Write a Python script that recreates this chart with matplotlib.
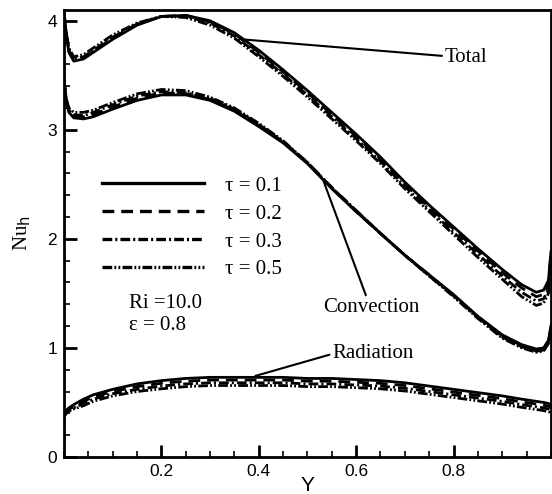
import matplotlib
matplotlib.use("Agg")
import matplotlib.pyplot as plt
from matplotlib.ticker import MultipleLocator, FixedLocator

plt.rcParams['lines.scale_dashes'] = False

Y = [0, 0.005, 0.01, 0.02, 0.04, 0.06, 0.1, 0.15, 0.2, 0.25, 0.3, 0.35, 0.4, 0.45,
     0.5, 0.55, 0.6, 0.65, 0.7, 0.75, 0.8, 0.85, 0.9, 0.94, 0.97, 0.985, 0.995, 1.0]

taus = ["0.1", "0.2", "0.3", "0.5"]

total_01 = [4.07, 3.85, 3.71, 3.63, 3.65, 3.71, 3.83, 3.96, 4.04, 4.05, 4.00, 3.89, 3.73, 3.55,
            3.36, 3.16, 2.96, 2.75, 2.52, 2.31, 2.11, 1.91, 1.72, 1.58, 1.51, 1.53, 1.62, 1.88]
total_02 = [4.07, 3.86, 3.72, 3.64, 3.66, 3.72, 3.84, 3.97, 4.04, 4.05, 3.99, 3.88, 3.71, 3.53,
            3.34, 3.14, 2.94, 2.73, 2.50, 2.29, 2.09, 1.89, 1.69, 1.55, 1.47, 1.49, 1.58, 1.86]
total_03 = [4.07, 3.87, 3.73, 3.65, 3.67, 3.73, 3.85, 3.97, 4.04, 4.04, 3.98, 3.86, 3.69, 3.51,
            3.32, 3.12, 2.92, 2.71, 2.48, 2.27, 2.06, 1.86, 1.66, 1.51, 1.43, 1.45, 1.54, 1.84]
total_05 = [4.07, 3.88, 3.75, 3.67, 3.69, 3.75, 3.87, 3.98, 4.04, 4.03, 3.96, 3.84, 3.67, 3.49,
            3.30, 3.10, 2.90, 2.69, 2.46, 2.25, 2.04, 1.83, 1.63, 1.47, 1.39, 1.41, 1.50, 1.80]

conv_01 = [3.45, 3.25, 3.16, 3.11, 3.10, 3.12, 3.19, 3.27, 3.32, 3.32, 3.27, 3.17, 3.03, 2.88,
           2.69, 2.46, 2.25, 2.05, 1.85, 1.67, 1.49, 1.29, 1.12, 1.03, 0.99, 1.00, 1.07, 1.20]
conv_02 = [3.45, 3.26, 3.17, 3.12, 3.12, 3.14, 3.21, 3.29, 3.34, 3.33, 3.28, 3.18, 3.04, 2.89,
           2.70, 2.47, 2.25, 2.05, 1.85, 1.67, 1.48, 1.28, 1.11, 1.02, 0.98, 0.99, 1.06, 1.19]
conv_03 = [3.45, 3.27, 3.18, 3.14, 3.13, 3.16, 3.23, 3.31, 3.35, 3.34, 3.29, 3.19, 3.05, 2.89,
           2.70, 2.47, 2.26, 2.05, 1.85, 1.66, 1.48, 1.28, 1.10, 1.01, 0.97, 0.98, 1.05, 1.18]
conv_05 = [3.45, 3.28, 3.20, 3.16, 3.16, 3.18, 3.25, 3.33, 3.37, 3.36, 3.30, 3.20, 3.06, 2.90,
           2.70, 2.47, 2.26, 2.05, 1.85, 1.66, 1.47, 1.27, 1.09, 1.00, 0.96, 0.97, 1.04, 1.17]

rad_01 = [0.40, 0.43, 0.45, 0.48, 0.53, 0.57, 0.62, 0.67, 0.70, 0.72, 0.73, 0.73, 0.73, 0.73,
          0.72, 0.72, 0.71, 0.70, 0.68, 0.65, 0.62, 0.59, 0.56, 0.53, 0.51, 0.50, 0.49, 0.48]
rad_02 = [0.39, 0.42, 0.44, 0.46, 0.51, 0.55, 0.60, 0.645, 0.675, 0.695, 0.705, 0.705, 0.705, 0.705,
          0.695, 0.695, 0.685, 0.675, 0.655, 0.625, 0.595, 0.565, 0.535, 0.505, 0.485, 0.475, 0.465, 0.455]
rad_03 = [0.38, 0.41, 0.43, 0.45, 0.49, 0.53, 0.58, 0.62, 0.65, 0.67, 0.68, 0.68, 0.68, 0.68,
          0.67, 0.67, 0.66, 0.65, 0.63, 0.60, 0.57, 0.54, 0.51, 0.48, 0.46, 0.45, 0.44, 0.43]
rad_05 = [0.37, 0.40, 0.42, 0.44, 0.47, 0.51, 0.56, 0.60, 0.625, 0.645, 0.655, 0.655, 0.655, 0.655,
          0.645, 0.645, 0.635, 0.625, 0.605, 0.575, 0.545, 0.515, 0.485, 0.455, 0.435, 0.425, 0.415, 0.405]

totals = [total_01, total_02, total_03, total_05]
convs = [conv_01, conv_02, conv_03, conv_05]
rads = [rad_01, rad_02, rad_03, rad_05]

styles = ['-', (0, (8.5, 5)), (0, (7, 2.2, 1.5, 2.2)), (0, (7, 1.6, 1.3, 1.6, 1.3, 1.6))]

serif = 'Liberation Serif'
sans = 'Liberation Sans'

fig = plt.figure(figsize=(5.52, 4.94), dpi=100)
ax = fig.add_axes([0.116, 0.075, 0.882, 0.905])

for i in range(3, -1, -1):
    ax.plot(Y, totals[i], color='black', lw=2.0, ls=styles[i], label="\u03c4 = " + taus[i])
    ax.plot(Y, convs[i], color='black', lw=2.0, ls=styles[i])
    ax.plot(Y, rads[i], color='black', lw=2.0, ls=styles[i])

handles, labels = ax.get_legend_handles_labels()
leg = ax.legend(handles[::-1], labels[::-1], loc='upper left', bbox_to_anchor=(0.04, 0.67),
                frameon=False, handlelength=4.9, handletextpad=1.0, labelspacing=0.4,
                prop={'family': serif, 'size': 15})
for h in leg.get_lines():
    h.set_linewidth(2.4)

ax.annotate("Total", xy=(0.365, 3.83), xytext=(0.782, 3.66), family=serif, fontsize=15,
            va='center', arrowprops=dict(arrowstyle='-', color='black', lw=1.5,
                                         shrinkA=0, shrinkB=0))
ax.annotate("Convection", xy=(0.533, 2.53), xytext=(0.533, 1.37), family=serif, fontsize=15,
            va='center', arrowprops=dict(arrowstyle='-', color='black', lw=1.5,
                                         shrinkA=0, shrinkB=0, relpos=(0.45, 1.0)))
ax.annotate("Radiation", xy=(0.393, 0.743), xytext=(0.551, 0.945), family=serif, fontsize=15,
            va='center', arrowprops=dict(arrowstyle='-', color='black', lw=1.5,
                                         shrinkA=0, shrinkB=0, relpos=(0.0, 0.5)))

ax.text(0.133, 1.41, "Ri =10.0", family=serif, fontsize=15, va='center')
ax.text(0.133, 1.21, "\u03b5 = 0.8", family=serif, fontsize=15, va='center')

ax.set_xlim(0, 1)
ax.set_ylim(0, 4.1)
ax.xaxis.set_major_locator(FixedLocator([0.2, 0.4, 0.6, 0.8]))
ax.xaxis.set_minor_locator(MultipleLocator(0.05))
ax.yaxis.set_major_locator(MultipleLocator(1))
ax.yaxis.set_minor_locator(MultipleLocator(0.2))
ax.tick_params(which='both', direction='in', width=2, labelsize=12.5, pad=5)
ax.tick_params(which='major', length=9)
ax.tick_params(which='minor', length=4.5, width=1.2)
for lab in ax.get_xticklabels() + ax.get_yticklabels():
    lab.set_family(sans)
for s in ax.spines.values():
    s.set_linewidth(2)

ax.set_xlabel("Y", family=sans, fontsize=15, labelpad=-2)
ax.set_ylabel("Nu$_{\\rm h}$", family=serif, fontsize=15, labelpad=10)

plt.savefig("out.png", dpi=100)
